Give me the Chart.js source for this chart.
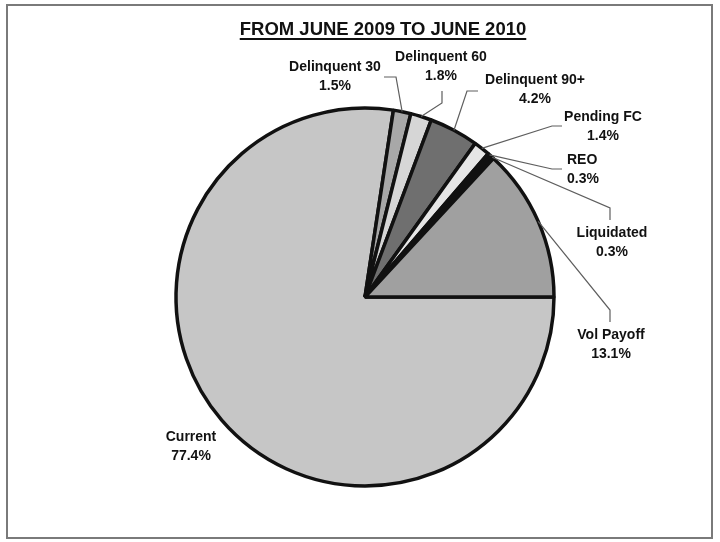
<!DOCTYPE html>
<html>
<head>
<meta charset="utf-8">
<title>Loan status</title>
<script src="https://cdn.jsdelivr.net/npm/chart.js@4/dist/chart.umd.min.js"></script>
<style>
  html, body { margin: 0; padding: 0; background: #fff; }
  #pie { display: block; }
</style>
</head>
<body>
<canvas id="pie" width="720" height="542"></canvas>
<script>
// slices, clockwise from 3 o'clock
var statuses = ["Current", "Delinquent 30", "Delinquent 60", "Delinquent 90+", "Pending FC", "REO", "Liquidated", "Vol Payoff"];
var shares = [77.4, 1.5, 1.8, 4.2, 1.4, 0.3, 0.3, 13.1];
var shades = ["#c6c6c6", "#a8a8a8", "#d6d6d6", "#6f6f6f", "#e6e6e6", "#111111", "#2a2a2a", "#a0a0a0"];
var chartTitle = "FROM JUNE 2009 TO JUNE 2010";

// where each label sits and how its leader line bends (null = no line)
var callouts = [
  { x: 191, y: 437, align: "center", path: null },
  { x: 335, y: 67, align: "center", path: [[396, 77], [384, 77]] },
  { x: 441, y: 57, align: "center", path: [[442, 103], [442, 91]] },
  { x: 535, y: 80, align: "center", path: [[467, 91], [478, 91]] },
  { x: 603, y: 117, align: "center", path: [[552, 126], [562, 126]] },
  { x: 567, y: 160, align: "left", path: [[552, 169], [562, 169]] },
  { x: 612, y: 233, align: "center", path: [[610, 208], [610, 220]] },
  { x: 611, y: 335, align: "center", path: [[610, 310], [610, 322]] }
];

var labelFont = "bold 14px 'Liberation Sans', Arial, sans-serif";

var frameAndTitle = {
  id: "frameAndTitle",
  beforeDraw: function (chart) {
    var ctx = chart.ctx;
    ctx.save();
    ctx.fillStyle = "#fff";
    ctx.fillRect(0, 0, chart.width, chart.height);
    ctx.strokeStyle = "#7a7a7a";
    ctx.lineWidth = 2;
    ctx.strokeRect(7, 5, 705, 533);
    ctx.restore();
  },
  afterDraw: function (chart) {
    var ctx = chart.ctx;
    ctx.save();
    // title, underlined
    ctx.font = "bold 18.5px 'Liberation Sans', Arial, sans-serif";
    ctx.fillStyle = "#111";
    ctx.textAlign = "center";
    ctx.textBaseline = "middle";
    ctx.fillText(chartTitle, 383, 30);
    var w = ctx.measureText(chartTitle).width;
    ctx.fillRect(383 - w / 2, 38, w, 2);

    // leader lines from the middle of each slice's rim
    var arcs = chart.getDatasetMeta(0).data;
    ctx.strokeStyle = "#5e5e5e";
    ctx.lineWidth = 1.2;
    arcs.forEach(function (arc, i) {
      var c = callouts[i];
      if (!c.path) return;
      var p = arc.getProps(["x", "y", "startAngle", "endAngle", "outerRadius"], true);
      var mid = (p.startAngle + p.endAngle) / 2;
      ctx.beginPath();
      ctx.moveTo(p.x + Math.cos(mid) * p.outerRadius, p.y + Math.sin(mid) * p.outerRadius);
      c.path.forEach(function (pt) { ctx.lineTo(pt[0], pt[1]); });
      ctx.stroke();
    });

    // name and share
    ctx.font = labelFont;
    ctx.fillStyle = "#111";
    statuses.forEach(function (name, i) {
      var c = callouts[i];
      ctx.textAlign = c.align;
      ctx.fillText(name, c.x, c.y);
      ctx.fillText(shares[i].toFixed(1) + "%", c.x, c.y + 19);
    });
    ctx.restore();
  }
};

new Chart(document.getElementById("pie"), {
  type: "pie",
  data: {
    labels: statuses,
    datasets: [{
      data: shares,
      backgroundColor: shades,
      borderColor: "#111",
      borderWidth: 3.5
    }]
  },
  options: {
    responsive: false,
    devicePixelRatio: 1,
    animation: false,
    rotation: 90,
    radius: 189,
    layout: { padding: { left: 110, right: 100, top: 100, bottom: 48 } },
    plugins: {
      legend: { display: false },
      tooltip: { enabled: false },
      title: { display: false }
    }
  },
  plugins: [frameAndTitle]
});
</script>
</body>
</html>
